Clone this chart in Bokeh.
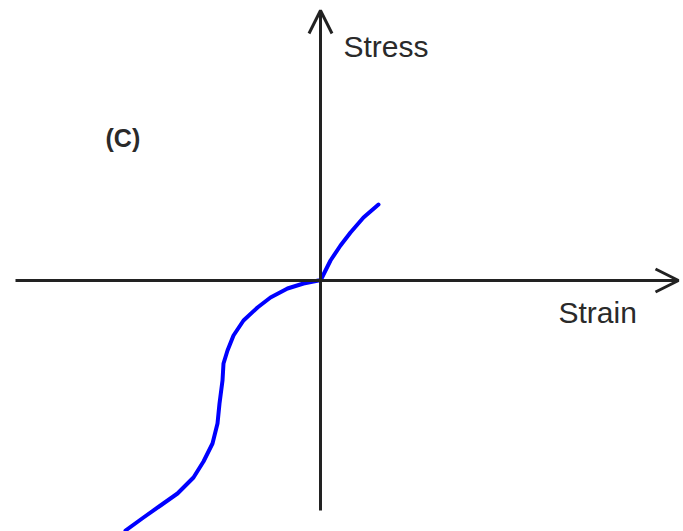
from bokeh.plotting import figure
from bokeh.models import Range1d, Arrow, OpenHead, Label
from bokeh.embed import file_html
from bokeh.resources import INLINE

# Curve (arbitrary units, origin at axis crossing)
strain = [-1.95, -1.77, -1.60, -1.43, -1.27, -1.17, -1.08, -1.03, -1.01, -0.98,
          -0.97, -0.93, -0.87, -0.77, -0.63, -0.50, -0.33, -0.17, -0.02, 0.00,
          0.10, 0.20, 0.30, 0.43, 0.58]
stress = [-2.50, -2.37, -2.25, -2.13, -1.97, -1.81, -1.63, -1.43, -1.23, -1.00,
          -0.83, -0.70, -0.55, -0.40, -0.27, -0.17, -0.08, -0.03, 0.00, 0.00,
          0.20, 0.35, 0.48, 0.63, 0.76]

x_label = "Strain"
y_label = "Stress"
panel_label = "(C)"

p = figure(width=683, height=531, output_backend="svg", toolbar_location=None,
           x_range=Range1d(-3.20, 3.63), y_range=Range1d(-2.51, 2.80),
           min_border=0, outline_line_color=None, background_fill_color="white",
           border_fill_color="white")
p.axis.visible = False
p.grid.visible = False

axis_color = "#222222"
p.add_layout(Arrow(end=OpenHead(size=23, line_width=3, line_color=axis_color),
                   x_start=-3.05, y_start=0, x_end=3.58, y_end=0,
                   line_width=3, line_color=axis_color))
p.add_layout(Arrow(end=OpenHead(size=23, line_width=3, line_color=axis_color),
                   x_start=0, y_start=-2.30, x_end=0, y_end=2.70,
                   line_width=3, line_color=axis_color))

p.line(strain, stress, line_color="#0000ff", line_width=4, line_cap="round",
       line_join="round")

text_color = "#2a2a2a"
p.add_layout(Label(x=0.23, y=2.34, text=y_label, text_font="Liberation Sans",
                   text_font_size="30px", text_color=text_color,
                   text_baseline="alphabetic"))
p.add_layout(Label(x=2.38, y=-0.32, text=x_label, text_font="Liberation Sans",
                   text_font_size="30px", text_color=text_color,
                   text_baseline="alphabetic"))
p.add_layout(Label(x=-2.15, y=1.43, text=panel_label, text_font="Liberation Sans",
                   text_font_size="25px", text_font_style="bold",
                   text_color=text_color, text_baseline="alphabetic"))

open("out.html", "w").write(file_html(p, INLINE))
